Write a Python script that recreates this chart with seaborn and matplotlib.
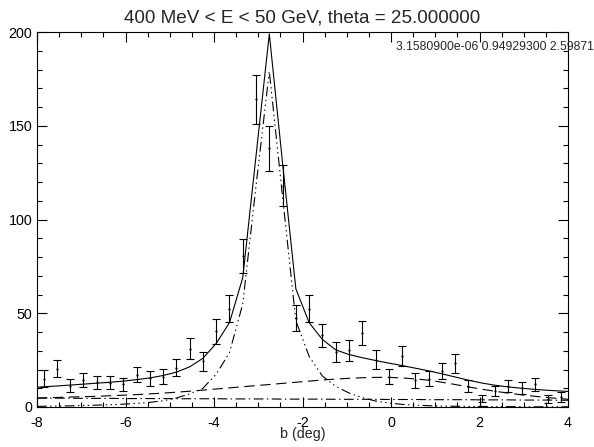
import numpy as np
import pandas as pd
import matplotlib
matplotlib.use("Agg")
import matplotlib.pyplot as plt
import seaborn as sns

# ---- data -------------------------------------------------------------
bin_centers = [-7.85, -7.55, -7.25, -6.95, -6.65, -6.35, -6.05, -5.75, -5.45, -5.15,
               -4.85, -4.55, -4.25, -3.95, -3.65, -3.35, -3.05, -2.75, -2.45, -2.15,
               -1.85, -1.55, -1.25, -0.95, -0.65, -0.35, -0.05, 0.25, 0.55, 0.85,
               1.15, 1.45, 1.75, 2.05, 2.35, 2.65, 2.95, 3.25, 3.55, 3.85]
counts = [15.1, 20.4, 11.4, 14.2, 13.1, 13.0, 12.1, 17.3, 15.3, 16.2,
          21.0, 31.2, 24.3, 40.3, 52.4, 80.5, 164.2, 138.0, 118.0, 47.3,
          52.4, 38.3, 29.4, 30.3, 39.4, 25.3, 16.2, 27.3, 14.3, 15.1,
          19.3, 23.4, 11.3, 4.4, 8.5, 11.1, 10.3, 12.1, 4.2, 5.5]
count_err = [4.5, 4.6, 3.3, 3.7, 3.5, 3.6, 3.5, 4.2, 4.0, 4.0,
             4.5, 5.7, 5.0, 6.6, 7.3, 9.0, 13.0, 11.9, 10.8, 6.9,
             7.3, 6.2, 5.3, 5.7, 6.4, 5.0, 4.0, 5.3, 4.0, 4.1,
             4.4, 5.0, 3.1, 1.9, 2.7, 3.3, 3.2, 3.5, 2.2, 2.7]

model_b = [-8.0, -7.85, -7.55, -7.25, -6.95, -6.65, -6.35, -6.05, -5.75, -5.45, -5.15,
           -4.85, -4.55, -4.25, -3.95, -3.65, -3.35, -3.05, -2.75, -2.45, -2.15,
           -1.85, -1.55, -1.25, -0.95, -0.65, -0.35, -0.05, 0.25, 0.55, 0.85,
           1.15, 1.45, 1.75, 2.05, 2.35, 2.65, 2.95, 3.25, 3.55, 3.85, 4.0]
model_total = [10.5, 10.8, 11.2, 11.7, 12.2, 12.7, 13.2, 13.8, 14.6, 15.5, 16.8,
               18.6, 21.4, 26.0, 33.9, 45.0, 69.0, 134.0, 199.0, 130.0, 63.0,
               45.0, 36.0, 30.5, 28.0, 26.3, 24.8, 23.4, 22.1, 20.7, 19.3,
               17.7, 16.0, 14.3, 12.8, 11.6, 10.7, 10.0, 9.4, 8.9, 8.5, 8.3]
model_broad = [4.8, 4.9, 5.1, 5.3, 5.5, 5.7, 6.0, 6.3, 6.6, 7.0, 7.4,
               7.9, 8.4, 9.0, 9.6, 10.2, 10.8, 11.4, 12.0, 12.6, 13.2,
               13.8, 14.4, 14.9, 15.3, 15.6, 15.8, 15.8, 15.5, 15.0, 14.3,
               13.2, 12.0, 10.7, 9.5, 8.4, 7.4, 6.5, 5.7, 5.0, 4.4, 4.1]
model_iso = [4.7, 4.7, 4.7, 4.7, 4.6, 4.6, 4.6, 4.5, 4.5, 4.5, 4.5,
             4.4, 4.4, 4.4, 4.4, 4.3, 4.3, 4.3, 4.3, 4.2, 4.2,
             4.2, 4.2, 4.1, 4.1, 4.1, 4.1, 4.0, 4.0, 4.0, 3.9,
             3.9, 3.9, 3.9, 3.8, 3.8, 3.8, 3.7, 3.7, 3.7, 3.6, 3.6]
model_source = [0.3, 0.4, 0.5, 0.6, 0.8, 1.0, 1.2, 1.5, 1.9, 2.5, 3.3,
                4.8, 7.0, 10.0, 17.5, 29.0, 55.0, 118.0, 179.0, 112.0, 46.0,
                27.0, 16.5, 11.0, 7.5, 5.0, 3.2, 2.1, 1.4, 1.0, 0.7,
                0.5, 0.4, 0.3, 0.3, 0.2, 0.2, 0.2, 0.1, 0.1, 0.1, 0.1]

title_text = "400 MeV < E < 50 GeV, theta = 25.000000"
fit_params_text = "3.1580900e-06 0.94929300 2.5987100"
x_label = "b (deg)"
x_ticks = [-8, -6, -4, -2, 0, 2, 4]
y_ticks = [0, 50, 100, 150, 200]

# ---- style ------------------------------------------------------------
sns.set_style("ticks")
plt.rcParams["font.family"] = ["Liberation Sans", "DejaVu Sans"]
plt.rcParams["axes.unicode_minus"] = False
plt.rcParams["lines.scale_dashes"] = False

fig = plt.figure(figsize=(5.94, 4.47), dpi=100)
ax = fig.add_axes([37 / 594, 40 / 447, 531 / 594, 375 / 447])

models = pd.DataFrame({
    "b": model_b,
    "total": model_total,
    "broad": model_broad,
    "iso": model_iso,
    "source": model_source,
})

lw = 0.8
sns.lineplot(data=models, x="b", y="total", ax=ax, color="black", lw=lw,
             estimator=None, sort=False)
sns.lineplot(data=models, x="b", y="broad", ax=ax, color="black", lw=lw,
             estimator=None, sort=False, dashes=False,
             linestyle=(0, (7.5, 4.0)))
sns.lineplot(data=models, x="b", y="iso", ax=ax, color="black", lw=lw,
             estimator=None, sort=False, linestyle=(0, (7.0, 2.5, 1.0, 2.5)))
sns.lineplot(data=models, x="b", y="source", ax=ax, color="black", lw=lw,
             estimator=None, sort=False,
             linestyle=(0, (7.0, 2.5, 1.0, 2.5, 1.0, 2.5, 1.0, 2.5)))

ax.errorbar(bin_centers, counts, yerr=count_err, fmt=".", color="black",
            markersize=1.2, elinewidth=lw, capsize=3.0, capthick=lw, zorder=5)

ax.set_xlim(-8, 4)
ax.set_ylim(0, 200)
ax.set_xticks(x_ticks)
ax.set_yticks(y_ticks)
ax.set_xticklabels([str(t) for t in x_ticks])
ax.set_yticklabels([str(t) for t in y_ticks])
ax.xaxis.set_minor_locator(matplotlib.ticker.MultipleLocator(0.5))
ax.yaxis.set_minor_locator(matplotlib.ticker.MultipleLocator(10))
ax.tick_params(which="both", direction="in", top=True, right=True,
               width=0.8, color="black", labelsize=10.3, labelcolor="black")
ax.tick_params(axis="x", which="major", length=7.2, pad=6.5)
ax.tick_params(axis="y", which="major", length=7.2, pad=3.5)
ax.tick_params(which="minor", length=3.5)
for s in ax.spines.values():
    s.set_visible(True)
    s.set_linewidth(0.8)
    s.set_color("black")

ax.set_xlabel(x_label, fontsize=10.3, labelpad=-2)
ax.set_ylabel("")
ax.set_title(title_text, fontsize=13.6, pad=6.5)
ax.text((396 - 37) / 531, (407 - 50) / 375, fit_params_text,
        transform=ax.transAxes, fontsize=8.7, ha="left", va="baseline")

fig.savefig("out.png", dpi=100)
